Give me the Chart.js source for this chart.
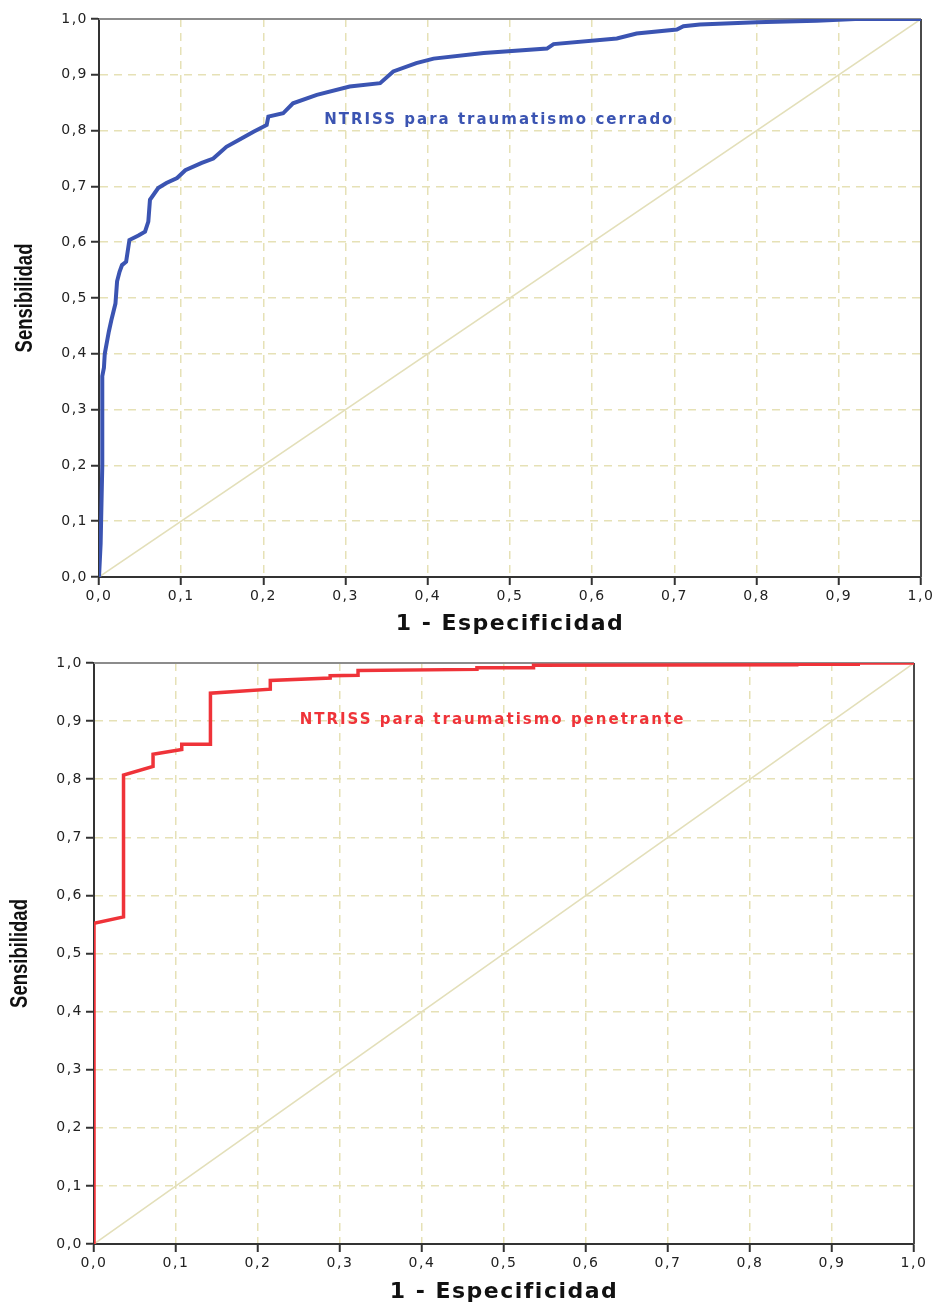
<!DOCTYPE html>
<html lang="es">
<head>
<meta charset="utf-8">
<title>Curvas ROC NTRISS</title>
<script src="https://cdn.jsdelivr.net/npm/chart.js@4/dist/chart.umd.min.js"></script>
<style>
  html, body { margin: 0; padding: 0; background: #fff; }
  #wrap { position: relative; width: 938px; height: 1303px; }
  canvas { position: absolute; left: 0; }
  #rocCerrado { top: 0; }
  #rocPenetrante { top: 645px; }
</style>
</head>
<body>
<div id="wrap">
  <canvas id="rocCerrado" width="938" height="645"></canvas>
  <canvas id="rocPenetrante" width="938" height="658"></canvas>
</div>
<script>
// Curva ROC, traumatismo cerrado (1 - especificidad, sensibilidad)
const cerradoX = [0, 0.002, 0.004, 0.004, 0.006, 0.007, 0.012, 0.015, 0.020, 0.022, 0.025, 0.028, 0.033, 0.037,
  0.048, 0.056, 0.060, 0.062, 0.072, 0.082, 0.095, 0.105, 0.125, 0.139, 0.155, 0.170, 0.188, 0.204, 0.206,
  0.224, 0.236, 0.265, 0.305, 0.342, 0.358, 0.386, 0.407, 0.468, 0.545, 0.553, 0.630, 0.654, 0.703, 0.711,
  0.731, 0.800, 0.873, 0.920, 1.0];
const cerradoY = [0, 0.06, 0.20, 0.36, 0.375, 0.40, 0.44, 0.46, 0.49, 0.53, 0.547, 0.559, 0.565, 0.604,
  0.612, 0.619, 0.637, 0.676, 0.697, 0.706, 0.715, 0.729, 0.742, 0.750, 0.771, 0.783, 0.798, 0.810, 0.825,
  0.831, 0.849, 0.864, 0.879, 0.885, 0.906, 0.921, 0.929, 0.939, 0.947, 0.955, 0.965, 0.974, 0.981, 0.987,
  0.990, 0.994, 0.997, 1.0, 1.0];

// Curva ROC, traumatismo penetrante
const penetranteX = [0, 0, 0.036, 0.036, 0.072, 0.072, 0.107, 0.107, 0.142, 0.142, 0.215, 0.215, 0.288, 0.288,
  0.322, 0.322, 0.467, 0.467, 0.536, 0.536, 0.857, 0.857, 0.932, 0.932, 1.0];
const penetranteY = [0, 0.552, 0.563, 0.807, 0.822, 0.843, 0.851, 0.860, 0.860, 0.948, 0.955, 0.970, 0.974, 0.978,
  0.979, 0.987, 0.989, 0.992, 0.992, 0.996, 0.997, 0.998, 0.998, 1.0, 1.0];

// Línea de referencia y marcas de los ejes
const diagonalX = [0, 1];
const diagonalY = [0, 1];
const tickLabels = ['0,0', '0,1', '0,2', '0,3', '0,4', '0,5', '0,6', '0,7', '0,8', '0,9', '1,0'];
const yTitle = 'Sensibilidad';
const xTitle = '1 - Especificidad';

const toPoints = (xs, ys) => xs.map((x, i) => ({ x: x, y: ys[i] }));

function makeRoc(id, xs, ys, color, lineW, label, labelAt, box) {
  const axis = () => ({
    type: 'linear',
    min: 0,
    max: 1,
    ticks: {
      stepSize: 0.1,
      autoSkip: false,
      maxRotation: 0,
      padding: 3,
      color: '#222',
      font: { family: 'DejaVu Sans', size: 14 },
      callback: (v, i) => tickLabels[i]
    },
    grid: {
      color: '#e6e1b6',
      lineWidth: 1.5,
      tickLength: 8,
      tickColor: '#333',
      tickWidth: 2,
      tickBorderDash: []
    },
    border: { display: true, color: '#333', width: 2, dash: [8, 6] }
  });

  const xAxis = axis();
  xAxis.title = {
    display: true, text: xTitle, color: '#111', padding: { top: 0, bottom: box.xTitlePad },
    font: { family: 'DejaVu Sans', weight: 'bold', size: 22, lineHeight: 1 }
  };
  xAxis.afterFit = s => { s.height = box.xAxisH; };
  const yAxis = axis();
  yAxis.afterFit = s => { s.width = box.yAxisW; };

  return new Chart(document.getElementById(id), {
    type: 'scatter',
    data: {
      datasets: [
        { data: toPoints(xs, ys), showLine: true, borderColor: color, borderWidth: lineW,
          pointRadius: 0, tension: 0, borderJoinStyle: 'miter' },
        { data: toPoints(diagonalX, diagonalY), showLine: true, borderColor: '#e3dfb9', borderWidth: 1.5,
          pointRadius: 0 }
      ]
    },
    options: {
      responsive: false,
      animation: false,
      devicePixelRatio: 1,
      layout: { padding: { top: box.top, right: box.right, left: 0, bottom: 0 } },
      plugins: { legend: { display: false }, tooltip: { enabled: false } },
      scales: { x: xAxis, y: yAxis }
    },
    plugins: [{
      id: 'rocFrame',
      beforeDraw(chart) { chart.ctx.letterSpacing = '1.5px'; },
      beforeDatasetsDraw(chart) {
        const { ctx, chartArea: a } = chart;
        ctx.save();
        ctx.lineWidth = 2;
        ctx.strokeStyle = '#8c8c8c';
        ctx.beginPath(); ctx.moveTo(a.left, a.top); ctx.lineTo(a.right, a.top); ctx.stroke();
        ctx.strokeStyle = '#4a4a4a';
        ctx.beginPath(); ctx.moveTo(a.right, a.top); ctx.lineTo(a.right, a.bottom); ctx.stroke();

        // narrow bold title for the vertical axis
        ctx.translate(box.yTitleX, (a.top + a.bottom) / 2);
        ctx.rotate(-Math.PI / 2);
        ctx.scale(0.77, 1);
        ctx.letterSpacing = '0px';
        ctx.font = 'bold 24px "Liberation Sans"';
        ctx.fillStyle = '#111';
        ctx.textAlign = 'center';
        ctx.textBaseline = 'middle';
        ctx.fillText(yTitle, 0, 0);
        ctx.restore();
      },
      afterDatasetsDraw(chart) {
        const { ctx, scales } = chart;
        ctx.save();
        ctx.letterSpacing = '2px';
        ctx.font = 'bold 15px "DejaVu Sans"';
        ctx.fillStyle = color;
        ctx.textAlign = 'center';
        ctx.textBaseline = 'middle';
        ctx.fillText(label, scales.x.getPixelForValue(labelAt[0]), scales.y.getPixelForValue(labelAt[1]));
        ctx.restore();
      }
    }]
  });
}

makeRoc('rocCerrado', cerradoX, cerradoY, '#3b54b2', 4, 'NTRISS para traumatismo cerrado', [0.487, 0.819],
  { top: 19, right: 17, yAxisW: 99, xAxisH: 68, yTitleX: 25, xTitlePad: 10 });
makeRoc('rocPenetrante', penetranteX, penetranteY, '#ef3339', 3.5, 'NTRISS para traumatismo penetrante', [0.486, 0.902],
  { top: 18, right: 24, yAxisW: 94, xAxisH: 59, yTitleX: 20, xTitlePad: 0 });
</script>
</body>
</html>
